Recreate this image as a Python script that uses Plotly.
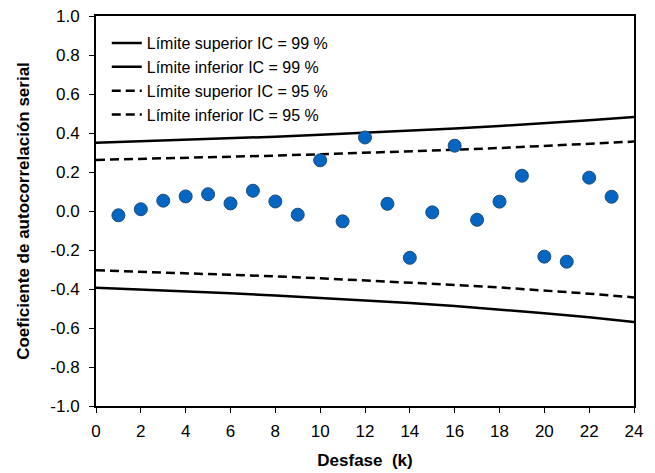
import plotly.graph_objects as go

# Lags for the confidence-limit lines
lag_lines = [0, 2, 4, 6, 8, 10, 12, 14, 16, 18, 20, 22, 24]
upper_99 = [0.350, 0.357, 0.365, 0.373, 0.381, 0.391, 0.401, 0.411, 0.423, 0.436, 0.449, 0.465, 0.482]
lower_99 = [-0.393, -0.402, -0.412, -0.422, -0.433, -0.445, -0.458, -0.472, -0.487, -0.505, -0.524, -0.545, -0.569]
upper_95 = [0.262, 0.267, 0.272, 0.278, 0.284, 0.291, 0.298, 0.306, 0.314, 0.323, 0.333, 0.344, 0.356]
lower_95 = [-0.304, -0.311, -0.319, -0.327, -0.335, -0.345, -0.355, -0.366, -0.379, -0.392, -0.407, -0.424, -0.443]

# Serial autocorrelation coefficients
lags = list(range(1, 24))
acf = [-0.022, 0.009, 0.053, 0.075, 0.086, 0.039, 0.104, 0.049, -0.019, 0.26,
       -0.053, 0.377, 0.037, -0.24, -0.007, 0.335, -0.045, 0.048, 0.181, -0.234,
       -0.26, 0.171, 0.073]

y_tick_vals = [-1.0, -0.8, -0.6, -0.4, -0.2, 0.0, 0.2, 0.4, 0.6, 0.8, 1.0]
y_tick_text = ["-1.0", "-0.8", "-0.6", "-0.4", "-0.2", "0.0", "0.2", "0.4", "0.6", "0.8", "1.0"]

legend_names = ["Límite superior IC = 99 %", "Límite inferior IC = 99 %",
                "Límite superior IC = 95 %", "Límite inferior IC = 95 %"]

FONT = "Liberation Sans Narrow, Arial Narrow, Liberation Sans, Arial, sans-serif"

fig = go.Figure()
for name, vals, dash in zip(legend_names, [upper_99, lower_99, upper_95, lower_95],
                            ["solid", "solid", "9px,5px", "9px,5px"]):
    fig.add_trace(go.Scatter(x=lag_lines, y=vals, mode="lines", name=name,
                             legendgroup=name,
                             line=dict(color="black", width=2.5, dash=dash)))

fig.add_trace(go.Scatter(x=lags, y=acf, mode="markers", showlegend=False,
                         marker=dict(size=13, color="#0565C3",
                                     line=dict(color="#1F4E79", width=1))))

fig.update_layout(
    width=655, height=473,
    margin=dict(l=96, r=21, t=16, b=67),
    paper_bgcolor="white", plot_bgcolor="white",
    font=dict(family=FONT, color="black", size=15),
    showlegend=True,
    legend=dict(x=0.02, y=0.974, xanchor="left", yanchor="top",
                bgcolor="rgba(0,0,0,0)", font=dict(size=16, family=FONT),
                tracegroupgap=0, traceorder="grouped", itemwidth=30),
    xaxis=dict(range=[0, 24], tickmode="linear", tick0=0, dtick=2,
               showgrid=False, zeroline=False, showline=True, mirror=True,
               linecolor="black", linewidth=2, ticks="outside", ticklen=5,
               tickcolor="black", tickfont=dict(size=17), ticklabelstandoff=4,
               automargin=False,
               title=dict(text="<b>Desfase  (k)</b>", font=dict(size=17), standoff=14)),
    yaxis=dict(range=[-1, 1], tickmode="array", tickvals=y_tick_vals,
               ticktext=y_tick_text, showgrid=False, zeroline=False, showline=True,
               mirror=True, linecolor="black", linewidth=2, ticks="outside",
               ticklen=5, tickcolor="black", tickfont=dict(size=17),
               ticklabelstandoff=6, automargin=False,
               title=dict(text="<b>Coeficiente de autocorrelación serial</b>",
                          font=dict(size=17), standoff=16)),
)

fig.write_html("out.html")
